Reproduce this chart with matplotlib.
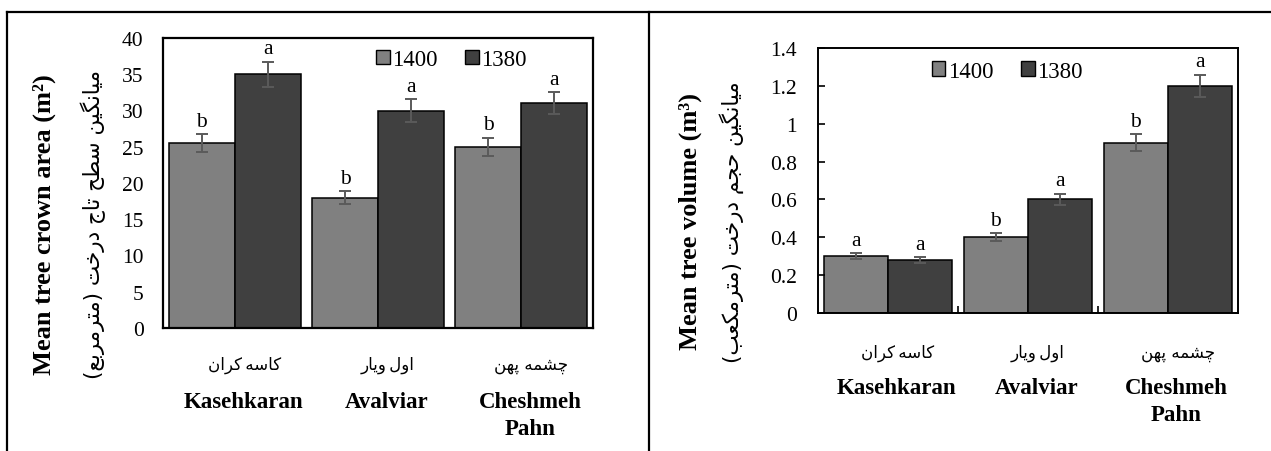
import matplotlib
matplotlib.use("Agg")
import matplotlib.pyplot as plt
import numpy as np
from matplotlib.lines import Line2D
from matplotlib.patches import Patch
from matplotlib.ticker import FuncFormatter
from matplotlib.transforms import blended_transform_factory

# Data
sites_fa = ["کاسه\u200cکران", "اول\u200cویار", "چشمه پهن"]
sites_en = ["Kasehkaran", "Avalviar", "Cheshmeh\nPahn"]
years = ["1400", "1380"]

crown_1400 = [25.5, 18.0, 25.0]
crown_1380 = [35.0, 30.0, 31.0]
crown_err_1400 = [1.25, 0.9, 1.25]
crown_err_1380 = [1.75, 1.55, 1.5]
crown_sig_1400 = ["b", "b", "b"]
crown_sig_1380 = ["a", "a", "a"]

vol_1400 = [0.30, 0.40, 0.90]
vol_1380 = [0.28, 0.60, 1.20]
vol_err_1400 = [0.016, 0.021, 0.045]
vol_err_1380 = [0.016, 0.031, 0.06]
vol_sig_1400 = ["a", "b", "b"]
vol_sig_1380 = ["a", "a", "a"]

crown_label_en = "Mean tree crown area (m\u00b2)"
crown_label_fa = "میانگین سطح تاج درخت (مترمربع)"
vol_label_en = "Mean tree volume (m\u00b3)"
vol_label_fa = "میانگین حجم درخت (مترمکعب)"

# Persian shaping (matplotlib has no bidi/joining support)
FORMS = {
    "ا": ("\uFE8D", "\uFE8E", None, None),
    "ب": ("\uFE8F", "\uFE90", "\uFE91", "\uFE92"),
    "ت": ("\uFE95", "\uFE96", "\uFE97", "\uFE98"),
    "ج": ("\uFE9D", "\uFE9E", "\uFE9F", "\uFEA0"),
    "ح": ("\uFEA1", "\uFEA2", "\uFEA3", "\uFEA4"),
    "خ": ("\uFEA5", "\uFEA6", "\uFEA7", "\uFEA8"),
    "د": ("\uFEA9", "\uFEAA", None, None),
    "ر": ("\uFEAD", "\uFEAE", None, None),
    "س": ("\uFEB1", "\uFEB2", "\uFEB3", "\uFEB4"),
    "ش": ("\uFEB5", "\uFEB6", "\uFEB7", "\uFEB8"),
    "ط": ("\uFEC1", "\uFEC2", "\uFEC3", "\uFEC4"),
    "ع": ("\uFEC9", "\uFECA", "\uFECB", "\uFECC"),
    "ل": ("\uFEDD", "\uFEDE", "\uFEDF", "\uFEE0"),
    "م": ("\uFEE1", "\uFEE2", "\uFEE3", "\uFEE4"),
    "ن": ("\uFEE5", "\uFEE6", "\uFEE7", "\uFEE8"),
    "ه": ("\uFEE9", "\uFEEA", "\uFEEB", "\uFEEC"),
    "و": ("\uFEED", "\uFEEE", None, None),
    "پ": ("\uFB56", "\uFB57", "\uFB58", "\uFB59"),
    "چ": ("\uFB7A", "\uFB7B", "\uFB7C", "\uFB7D"),
    "ک": ("\uFB8E", "\uFB8F", "\uFB90", "\uFB91"),
    "گ": ("\uFB92", "\uFB93", "\uFB94", "\uFB95"),
    "ی": ("\uFBFC", "\uFBFD", "\uFBFE", "\uFBFF"),
}


def shape_fa(text):
    out = []
    for i, c in enumerate(text):
        if c not in FORMS:
            out.append(c)
            continue
        prev = text[i - 1] if i > 0 else ""
        nxt = text[i + 1] if i + 1 < len(text) else ""
        iso, fin, ini, med = FORMS[c]
        jp = prev in FORMS and FORMS[prev][2] is not None
        jn = ini is not None and nxt in FORMS
        if jp and jn:
            out.append(med)
        elif jp:
            out.append(fin)
        elif jn:
            out.append(ini)
        else:
            out.append(iso)
    s = "".join(out).replace("\u200c", "\u2009")[::-1]
    return s.translate(str.maketrans("()", ")("))


W, H = 1271, 452
fig = plt.figure(figsize=(W / 100, H / 100), dpi=100)

serif = "Liberation Serif"
fa_font = "DejaVu Sans"
c1400 = "#808080"
c1380 = "#404040"
err_col = "#5a5a5a"


def px(x, y):
    return x / W, 1 - y / H


def panel(rect, v1400, v1380, e1400, e1380, s1400, s1380, ylim, yticks,
          lab_en, lab_fa, lab_x, lab_y, fa_y, en_top, leg_xy, spine_w, inner_ticks):
    ax = fig.add_axes(rect)
    x = np.arange(len(sites_en))
    w = 0.46
    ekw = dict(ecolor=err_col, elinewidth=1.4, capsize=4.5, capthick=1.4)
    ax.bar(x - w / 2, v1400, w, color=c1400, edgecolor="black", linewidth=1.1,
           yerr=e1400, error_kw=ekw)
    ax.bar(x + w / 2, v1380, w, color=c1380, edgecolor="black", linewidth=1.1,
           yerr=e1380, error_kw=ekw)
    # significance letters
    for i in range(len(x)):
        ax.annotate(s1400[i], (x[i] - w / 2, v1400[i] + e1400[i]), xytext=(0, 6),
                    textcoords="offset points", ha="center", va="baseline",
                    fontsize=15.5, family=serif)
        ax.annotate(s1380[i], (x[i] + w / 2, v1380[i] + e1380[i]), xytext=(0, 6),
                    textcoords="offset points", ha="center", va="baseline",
                    fontsize=15.5, family=serif)
    ax.set_xlim(-0.5, len(x) - 0.5)
    ax.set_ylim(*ylim)
    ax.set_yticks(yticks)
    ax.yaxis.set_major_formatter(FuncFormatter(lambda v, p: "%g" % round(v, 2)))
    ax.set_xticks([])
    for sp in ax.spines.values():
        sp.set_linewidth(spine_w)
    if inner_ticks:
        ax.tick_params(axis="y", direction="in", length=5, width=1.2, pad=15)
        ax.set_xticks(x[:-1] + 0.5, minor=True)
        ax.tick_params(axis="x", which="minor", direction="in", length=5, width=1.2)
    else:
        ax.tick_params(axis="y", length=0, pad=14)
    for t in ax.get_yticklabels():
        t.set_fontfamily(serif)
        t.set_fontsize(15.5)

    # category labels, Persian then English
    tr = blended_transform_factory(ax.transData, fig.transFigure)
    for i in range(len(x)):
        fig.text(x[i] + 0.07, 1 - fa_y / H, shape_fa(sites_fa[i]), transform=tr,
                 ha="center", va="center", fontsize=12, family=fa_font)
        fig.text(x[i] + 0.06, 1 - en_top / H, sites_en[i], transform=tr,
                 ha="center", va="top", fontsize=16.5, family=serif,
                 fontweight="bold", linespacing=1.38)

    # y labels
    fig.text(*px(lab_x[0], lab_y), lab_en, rotation=90, ha="center", va="center",
             fontsize=19, family=serif, fontweight="bold")
    fig.text(*px(lab_x[1], lab_y), shape_fa(lab_fa), rotation=90, ha="center",
             va="center", fontsize=15.5, family=fa_font)

    handles = [Patch(facecolor=c1400, edgecolor="black", linewidth=1.0),
               Patch(facecolor=c1380, edgecolor="black", linewidth=1.0)]
    ax.legend(handles, years, loc="center", bbox_to_anchor=leg_xy, ncol=2,
              frameon=False, prop=dict(family=serif, size=16.5), handlelength=0.6,
              handleheight=0.6, handletextpad=0.1, columnspacing=1.2)
    return ax


# left panel: crown area
panel([163 / W, 1 - 329 / H, 430 / W, 290 / H], crown_1400, crown_1380,
      crown_err_1400, crown_err_1380, crown_sig_1400, crown_sig_1380,
      (0, 40), np.arange(0, 41, 5), crown_label_en, crown_label_fa,
      (44, 93), 225, 365, 392, (0.67, 0.925), 1.6, False)

# right panel: volume
panel([818 / W, 1 - 314 / H, 420 / W, 265 / H], vol_1400, vol_1380,
      vol_err_1400, vol_err_1380, vol_sig_1400, vol_sig_1380,
      (0, 1.4), np.arange(0, 1.41, 0.2), vol_label_en, vol_label_fa,
      (690, 732), 222, 353, 378, (0.45, 0.913), 1.4, True)

# table borders around the two panels
fig.add_artist(Line2D([7 / W, 1], [1 - 13 / H] * 2, color="black", lw=1.6))
fig.add_artist(Line2D([7 / W] * 2, [0, 1 - 13 / H], color="black", lw=1.6))
fig.add_artist(Line2D([649 / W] * 2, [0, 1 - 13 / H], color="black", lw=1.6))

fig.savefig("out.png", dpi=100)
